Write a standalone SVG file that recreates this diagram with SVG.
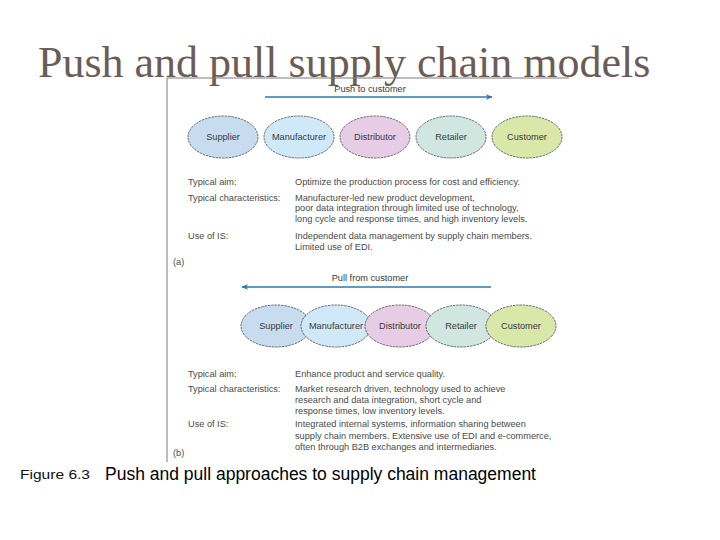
<svg xmlns="http://www.w3.org/2000/svg" width="720" height="540" viewBox="0 0 720 540">
<style>
.title{font-family:"Liberation Serif","Times New Roman",serif;font-size:44px;fill:#6b5c57}
.t{font-family:"Liberation Sans",Arial,sans-serif;font-size:9.2px;fill:#4a4a4a}
.n{font-family:"Liberation Sans",Arial,sans-serif;font-size:9.2px;fill:#3a3a3a;text-anchor:middle}
.e{stroke:#4a4a4a;stroke-width:0.8;stroke-dasharray:2.5 0.8}
.frame{stroke:#7a7a7a;stroke-width:1;fill:none}
.arr{stroke:#2f78ad;stroke-width:1.3;fill:none}
</style>
<defs>
<marker id="ah" viewBox="0 0 10 10" refX="9" refY="5" markerWidth="7" markerHeight="7" orient="auto-start-reverse" markerUnits="userSpaceOnUse">
<path d="M0,1 L10,5 L0,9 L3,5 Z" fill="#2f78ad"/>
</marker>
</defs>
<rect width="720" height="540" fill="#ffffff"/>
<text class="title" x="38" y="77">Push and pull supply chain models</text>
<path class="frame" d="M167,78 H569 M167,78 V462"/>

<g id="connectors">
<line class="arr" x1="265" y1="97" x2="492" y2="97" marker-end="url(#ah)"/>
<line class="arr" x1="491" y1="287" x2="242" y2="287" marker-end="url(#ah)"/>
</g>
<text class="n" x="370" y="91.5">Push to customer</text>
<text class="n" x="370" y="281">Pull from customer</text>

<g id="push-supplier"><ellipse class="e" cx="223" cy="137" rx="35" ry="21" fill="#c8dcf0"/><text class="n" x="223" y="140">Supplier</text></g>
<g id="push-manufacturer"><ellipse class="e" cx="299" cy="137" rx="35" ry="21" fill="#cfe9f8"/><text class="n" x="299" y="140">Manufacturer</text></g>
<g id="push-distributor"><ellipse class="e" cx="375" cy="137" rx="35" ry="21" fill="#e6cde5"/><text class="n" x="375" y="140">Distributor</text></g>
<g id="push-retailer"><ellipse class="e" cx="451" cy="137" rx="35" ry="21" fill="#cfe7e0"/><text class="n" x="451" y="140">Retailer</text></g>
<g id="push-customer"><ellipse class="e" cx="527" cy="137" rx="35" ry="21" fill="#d9e7a9"/><text class="n" x="527" y="140">Customer</text></g>

<g id="pull-supplier"><ellipse class="e" cx="276" cy="326" rx="35" ry="21" fill="#c8dcf0"/><text class="n" x="276" y="329">Supplier</text></g>
<g id="pull-manufacturer"><ellipse class="e" cx="336" cy="326" rx="35" ry="21" fill="#cfe9f8"/><text class="n" x="336" y="329">Manufacturer</text></g>
<g id="pull-distributor"><ellipse class="e" cx="400" cy="326" rx="35" ry="21" fill="#e6cde5"/><text class="n" x="400" y="329">Distributor</text></g>
<g id="pull-retailer"><ellipse class="e" cx="461" cy="326" rx="35" ry="21" fill="#cfe7e0"/><text class="n" x="461" y="329">Retailer</text></g>
<g id="pull-customer"><ellipse class="e" cx="521" cy="326" rx="35" ry="21" fill="#d9e7a9"/><text class="n" x="521" y="329">Customer</text></g>

<g id="text-a">
<text class="t" x="188" y="185">Typical aim:</text>
<text class="t" x="188" y="201">Typical characteristics:</text>
<text class="t" x="188" y="239">Use of IS:</text>
<text class="t" x="295" y="185">Optimize the production process for cost and efficiency.</text>
<text class="t" x="295" y="201">Manufacturer-led new product development,</text>
<text class="t" x="295" y="211">poor data integration through limited use of technology,</text>
<text class="t" x="295" y="222">long cycle and response times, and high inventory levels.</text>
<text class="t" x="295" y="239">Independent data management by supply chain members.</text>
<text class="t" x="295" y="250">Limited use of EDI.</text>
<text class="t" x="173" y="265">(a)</text>
</g>
<g id="text-b">
<text class="t" x="188" y="377">Typical aim:</text>
<text class="t" x="188" y="392">Typical characteristics:</text>
<text class="t" x="188" y="427">Use of IS:</text>
<text class="t" x="295" y="377">Enhance product and service quality.</text>
<text class="t" x="295" y="392">Market research driven, technology used to achieve</text>
<text class="t" x="295" y="403">research and data integration, short cycle and</text>
<text class="t" x="295" y="414">response times, low inventory levels.</text>
<text class="t" x="295" y="427">Integrated internal systems, information sharing between</text>
<text class="t" x="295" y="439">supply chain members. Extensive use of EDI and e-commerce,</text>
<text class="t" x="295" y="450">often through B2B exchanges and intermediaries.</text>
<text class="t" x="173" y="456">(b)</text>
</g>
<text x="20" y="479" font-family="Liberation Sans, Arial, sans-serif" font-size="12" fill="#111" textLength="70" lengthAdjust="spacingAndGlyphs">Figure 6.3</text>
<text x="105" y="480" font-family="Liberation Sans, Arial, sans-serif" font-size="17.5" fill="#000">Push and pull approaches to supply chain management</text>
</svg>
